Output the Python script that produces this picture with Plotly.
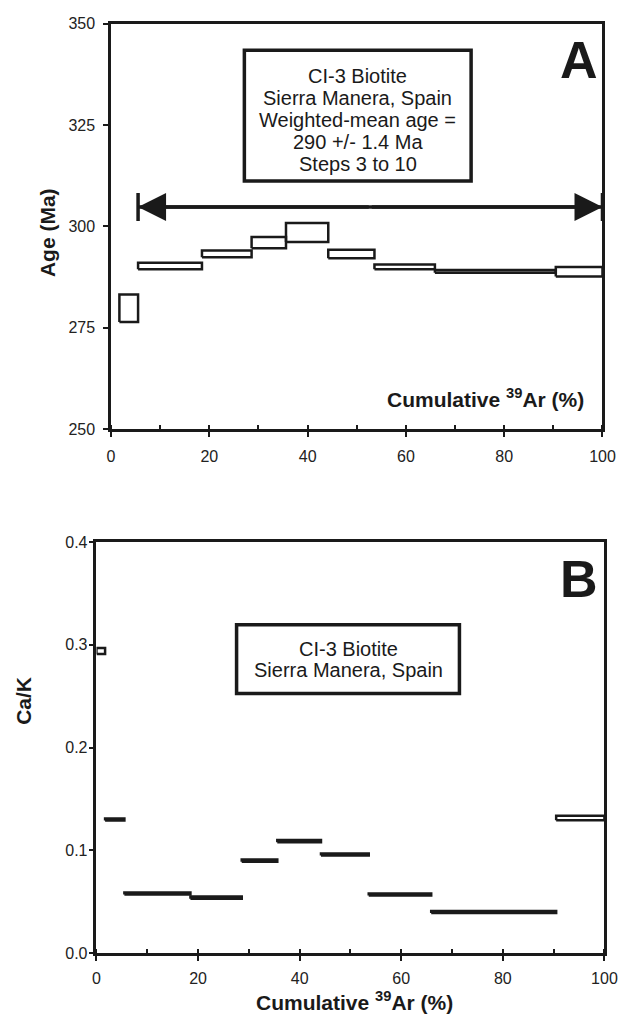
import plotly.graph_objects as go

# ---- data ----
step_start = [0.0, 1.7, 5.5, 18.5, 28.6, 35.6, 44.2, 53.6, 65.9, 90.5]
step_end = [1.7, 5.5, 18.5, 28.6, 35.6, 44.2, 53.6, 65.9, 90.5, 100.0]
age_ma = [None, 279.8, 290.2, 293.2, 296.0, 298.5, 293.2, 290.0, 288.9, 288.8]
age_err = [None, 3.4, 0.8, 0.85, 1.4, 2.35, 1.05, 0.6, 0.35, 1.15]
cak = [0.294, 0.130, 0.058, 0.054, 0.090, 0.109, 0.096, 0.057, 0.040, 0.1315]
cak_err = [0.003, 0.001, 0.001, 0.001, 0.001, 0.001, 0.001, 0.001, 0.001, 0.0022]
plateau_start = 5.5
plateau_end = 100.0
plateau_level = 304.8
x_ticks = [0, 20, 40, 60, 80, 100]
age_ticks = [250, 275, 300, 325, 350]
cak_ticks = [0.0, 0.1, 0.2, 0.3, 0.4]
cak_ticklabels = ["0.0", "0.1", "0.2", "0.3", "0.4"]
box_a_lines = ["CI-3 Biotite", "Sierra Manera, Spain", "Weighted-mean age =",
               "290 +/- 1.4 Ma", "Steps 3 to 10"]
box_b_lines = ["CI-3 Biotite", "Sierra Manera, Spain"]

FONT = "Liberation Sans, Arial, Helvetica, sans-serif"
INK = "#1a1a1a"

W, H = 633, 1030


def px(xp):
    return xp / W


def py(yp):
    return 1 - yp / H


def rect_path(x0s, x1s, ys, es):
    xs, yy = [], []
    for a, b, y, e in zip(x0s, x1s, ys, es):
        if y is None:
            continue
        xs += [a, b, b, a, a, None]
        yy += [y - e, y - e, y + e, y + e, y - e, None]
    return xs, yy


fig = go.Figure()

ax, ay = rect_path(step_start, step_end, age_ma, age_err)
fig.add_trace(go.Scatter(x=ax, y=ay, mode="lines", fill="toself", fillcolor="white",
                         line=dict(color=INK, width=2.5), xaxis="x", yaxis="y",
                         hoverinfo="skip", showlegend=False))

bx, by = rect_path(step_start, step_end, cak, cak_err)
fig.add_trace(go.Scatter(x=bx, y=by, mode="lines", fill="toself", fillcolor="white",
                         line=dict(color=INK, width=2.5), xaxis="x2", yaxis="y2",
                         hoverinfo="skip", showlegend=False))

# plateau arrow line + end bars
fig.add_trace(go.Scatter(x=[plateau_start, plateau_end], y=[plateau_level, plateau_level],
                         mode="lines+markers", line=dict(color=INK, width=3.5),
                         marker=dict(symbol="line-ns", size=20, line=dict(color=INK, width=3.5)),
                         xaxis="x", yaxis="y", hoverinfo="skip", showlegend=False))

mid = (plateau_start + plateau_end) / 2
annotations = []
for xe in (plateau_start, plateau_end):
    annotations.append(dict(x=xe, y=plateau_level, ax=mid, ay=plateau_level,
                            xref="x", yref="y", axref="x", ayref="y", text="",
                            showarrow=True, arrowhead=2, arrowsize=1.6, arrowwidth=3.5,
                            arrowcolor=INK))

shapes = [
    dict(type="rect", xref="paper", yref="paper", x0=px(247), x1=px(480), y0=py(176), y1=py(43),
         line=dict(color=INK, width=3.5), fillcolor="white", layer="above"),
    dict(type="rect", xref="paper", yref="paper", x0=px(239), x1=px(468), y0=py(697), y1=py(627),
         line=dict(color=INK, width=3.5), fillcolor="white", layer="above"),
]

for i, line in enumerate(box_a_lines):
    annotations.append(dict(x=px(363.5), y=py(69 + 22.3 * i), xref="paper", yref="paper",
                            text=line, showarrow=False, xanchor="center", yanchor="middle",
                            font=dict(family=FONT, size=20, color=INK)))
for i, line in enumerate(box_b_lines):
    annotations.append(dict(x=px(353.5), y=py(652 + 21.5 * i), xref="paper", yref="paper",
                            text=line, showarrow=False, xanchor="center", yanchor="middle",
                            font=dict(family=FONT, size=20, color=INK)))

annotations.append(dict(x=px(591), y=py(53), xref="paper", yref="paper", text="<b>A</b>",
                        showarrow=False, xanchor="center", yanchor="middle",
                        font=dict(family=FONT, size=52, color=INK)))
annotations.append(dict(x=px(591), y=py(581), xref="paper", yref="paper", text="<b>B</b>",
                        showarrow=False, xanchor="center", yanchor="middle",
                        font=dict(family=FONT, size=52, color=INK)))
annotations.append(dict(x=px(495), y=py(397), xref="paper", yref="paper",
                        text="<b>Cumulative <sup>39</sup>Ar (%)</b>", showarrow=False,
                        xanchor="center", yanchor="middle",
                        font=dict(family=FONT, size=21, color=INK)))
annotations.append(dict(x=px(360), y=py(1010), xref="paper", yref="paper",
                        text="<b>Cumulative <sup>39</sup>Ar (%)</b>", showarrow=False,
                        xanchor="center", yanchor="middle",
                        font=dict(family=FONT, size=21, color=INK)))
annotations.append(dict(x=px(44), y=py(228), xref="paper", yref="paper",
                        text="<b>Age (Ma)</b>", textangle=-90, showarrow=False,
                        xanchor="center", yanchor="middle",
                        font=dict(family=FONT, size=21, color=INK)))
annotations.append(dict(x=px(20), y=py(704), xref="paper", yref="paper",
                        text="<b>Ca/K</b>", textangle=-90, showarrow=False,
                        xanchor="center", yanchor="middle",
                        font=dict(family=FONT, size=21, color=INK)))

axis_common = dict(showline=True, linecolor=INK, linewidth=2.5, mirror=True, showgrid=False,
                   zeroline=False, ticks="outside", ticklen=5, tickwidth=2, tickcolor=INK,
                   tickfont=dict(family=FONT, size=16, color="#222"))
xminor = dict(ticks="inside", ticklen=4, tickwidth=2, tickcolor=INK, dtick=10, tick0=0)

fig.update_layout(
    width=W, height=H, margin=dict(l=0, r=0, t=0, b=0),
    paper_bgcolor="white", plot_bgcolor="white", showlegend=False,
    xaxis=dict(domain=[px(110), px(615)], range=[0, 100], tickvals=x_ticks,
               minor=xminor, anchor="y", ticklabelstandoff=6, **axis_common),
    yaxis=dict(domain=[py(428), py(16)], range=[250, 350], tickvals=age_ticks,
               anchor="x", ticklabelstandoff=5, **axis_common),
    xaxis2=dict(domain=[px(95), px(617)], range=[0, 100], tickvals=x_ticks,
                minor=xminor, anchor="y2", ticklabelstandoff=4, **axis_common),
    yaxis2=dict(domain=[py(961), py(543)], range=[0, 0.4], tickvals=cak_ticks,
                ticktext=cak_ticklabels, anchor="x2", ticklabelstandoff=-2, **axis_common),
    annotations=annotations,
    shapes=shapes,
)

fig.write_html("out.html", config={"displayModeBar": False},
               post_script="document.body.style.margin='0';document.body.style.overflow='hidden';")
